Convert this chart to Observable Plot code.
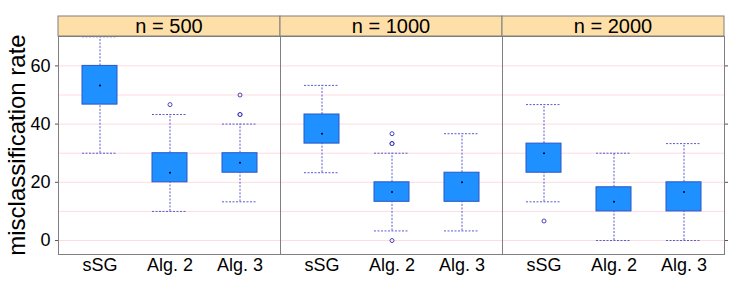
<!DOCTYPE html>
<html><head><meta charset="utf-8">
<script src="https://cdn.jsdelivr.net/npm/d3@7"></script>
<script src="https://cdn.jsdelivr.net/npm/@observablehq/plot@0.6"></script>
<style>
body{margin:0;background:#fff}
svg{font-family:"Liberation Sans",Arial,Helvetica,sans-serif}
</style>
</head><body><div id="chart"></div>
<script>
const panels = ["n = 500", "n = 1000", "n = 2000"];
const methods = ["sSG", "Alg. 2", "Alg. 3"];
const yTicks = [0, 20, 40, 60];
const gridValues = [0, 10, 20, 30, 40, 50, 60];

// box statistics, one entry per panel × method
const boxPanel  = ["n = 500","n = 500","n = 500","n = 1000","n = 1000","n = 1000","n = 2000","n = 2000","n = 2000"];
const boxMethod = ["sSG","Alg. 2","Alg. 3","sSG","Alg. 2","Alg. 3","sSG","Alg. 2","Alg. 3"];
const lowerWhisker = [30, 10, 13.3, 23.3, 3.3, 3.3, 13.3, 0, 0];
const q1           = [46.7, 20, 23.3, 33.3, 13.3, 13.3, 23.3, 10, 10];
const median       = [53.3, 23.3, 26.7, 36.7, 16.7, 20, 30, 13.3, 16.7];
const q3           = [60, 30, 30, 43.3, 20, 23.3, 33.3, 18.3, 20];
const upperWhisker = [70, 43.3, 40, 53.3, 30, 36.7, 46.7, 30, 33.3];

// outliers
const outlierPanel  = ["n = 500","n = 500","n = 500","n = 500","n = 1000","n = 1000","n = 1000","n = 1000","n = 2000"];
const outlierMethod = ["Alg. 2","Alg. 3","Alg. 3","Alg. 3","Alg. 2","Alg. 2","Alg. 2","Alg. 2","sSG"];
const outlierValue  = [46.7, 50, 43.3, 43.3, 36.7, 33.3, 33.3, 0, 6.7];

const rows = boxPanel.map((p, i) => ({panel: p, method: boxMethod[i], lo: lowerWhisker[i], q1: q1[i], med: median[i], q3: q3[i], hi: upperWhisker[i]}));
const outs = outlierValue.map((v, i) => ({panel: outlierPanel[i], method: outlierMethod[i], value: v}));

const whisker = {stroke: "#5a5ad0", strokeWidth: 1, strokeDasharray: "2,1.5"};

const plot = Plot.plot({
  width: 741, height: 288,
  marginLeft: 57, marginRight: 17, marginTop: 36, marginBottom: 34,
  style: {fontFamily: '"Liberation Sans",Arial,Helvetica,sans-serif', fontSize: "18px", background: "white", color: "black", overflow: "visible"},
  fx: {domain: panels, padding: 0, axis: null},
  x: {domain: methods, paddingInner: 0.5, paddingOuter: 0.335, align: 0.5, label: null},
  y: {domain: [-4.8, 70.1], label: null},
  marks: [
    Plot.gridY(gridValues, {stroke: "#ffdbe3", strokeOpacity: 1}),
    Plot.ruleX(rows, {fx: "panel", x: "method", y1: "q3", y2: "hi", ...whisker}),
    Plot.ruleX(rows, {fx: "panel", x: "method", y1: "lo", y2: "q1", ...whisker}),
    Plot.tickY(rows, {fx: "panel", x: "method", y: "hi", ...whisker}),
    Plot.tickY(rows, {fx: "panel", x: "method", y: "lo", ...whisker}),
    Plot.barY(rows, {fx: "panel", x: "method", y1: "q1", y2: "q3", fill: "#1e90ff", stroke: "#2a56c8", strokeWidth: 1}),
    Plot.dot(rows, {fx: "panel", x: "method", y: "med", r: 1, fill: "black", stroke: "none"}),
    Plot.dot(outs, {fx: "panel", x: "method", y: "value", r: 2, stroke: "#4848b4", strokeWidth: 1, fill: "none"}),
    Plot.frame({stroke: "#7f7f7f"}),
    Plot.axisY(yTicks, {anchor: "left", tickSize: 3, tickPadding: 5, label: null, fontSize: 18, stroke: "#555"}),
    Plot.axisY(yTicks, {anchor: "right", tickSize: 3, tickFormat: () => "", label: null, stroke: "#555"}),
    Plot.axisX({tickSize: 0, tickPadding: 4, label: null, fontSize: 18})
  ]
});

// strips above each panel, positioned with Plot's fx scale
const fx = plot.scale("fx");
const svg = d3.select(plot);
const strips = svg.append("g");
panels.forEach(p => {
  const x0 = fx.apply(p);
  const w = fx.bandwidth;
  strips.append("rect").attr("x", x0).attr("y", 16).attr("width", w).attr("height", 20)
    .attr("fill", "#ffdfa8").attr("stroke", "#7f7f7f");
  strips.append("text").attr("x", x0 + w / 2).attr("y", 33).attr("text-anchor", "middle")
    .attr("font-size", 20).attr("fill", "black").text(p);
});
svg.append("text").attr("transform", "translate(25,145) rotate(-90)").attr("text-anchor", "middle")
  .attr("font-size", 24).attr("fill", "black").text("misclassification rate");

document.getElementById("chart").appendChild(plot);
</script>
</body></html>
